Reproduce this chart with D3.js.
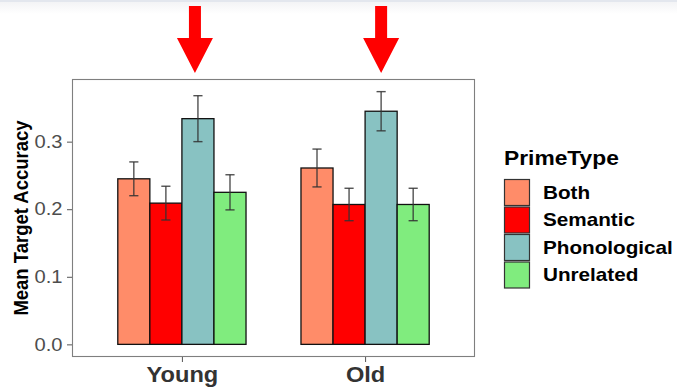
<!DOCTYPE html>
<html>
<head>
<meta charset="utf-8">
<script src="https://cdn.jsdelivr.net/npm/d3@7"></script>
<style>
  html, body { margin: 0; padding: 0; background: #fff; }
  svg { display: block; font-family: "Liberation Sans", Arial, sans-serif; }
</style>
</head>
<body>
<svg id="chart" width="677" height="390"></svg>
<script>
// Age groups on the x axis and prime types within each group
const groups = ["Young", "Old"];
const primeTypes = ["Both", "Semantic", "Phonological", "Unrelated"];
const primeColors = ["#FF8C69", "#FF0000", "#88C2C2", "#80EC7E"];

// Mean target accuracy per prime type (same order as primeTypes)
const youngMeans = [0.245, 0.209, 0.334, 0.225];
const oldMeans   = [0.261, 0.207, 0.345, 0.207];
// Standard errors
const youngSE = [0.025, 0.025, 0.034, 0.026];
const oldSE   = [0.028, 0.024, 0.029, 0.024];

const yTicks = [0.0, 0.1, 0.2, 0.3];
const yLabel = "Mean Target Accuracy";
const legendTitle = "PrimeType";
// Highlighted prime type (arrows above it in each group)
const highlighted = "Phonological";

const rows = [];
groups.forEach((g, gi) => {
  const means = gi === 0 ? youngMeans : oldMeans;
  const ses = gi === 0 ? youngSE : oldSE;
  primeTypes.forEach((p, pi) => rows.push({ group: g, gi, type: p, pi, mean: means[pi], se: ses[pi] }));
});

const svg = d3.select("#chart");
const panel = { left: 72, right: 475, top: 79, bottom: 357 };
// Text is drawn slightly wide
const stretch = 1.12;

// Faint band across the top edge
const defs = svg.append("defs");
const grad = defs.append("linearGradient").attr("id", "topfade").attr("x1", 0).attr("y1", 0).attr("x2", 0).attr("y2", 1);
grad.append("stop").attr("offset", "0%").attr("stop-color", "#f1f2f4");
grad.append("stop").attr("offset", "100%").attr("stop-color", "#ffffff");
svg.append("rect").attr("x", 0).attr("y", 0).attr("width", 677).attr("height", 14).attr("fill", "url(#topfade)");
svg.append("rect").attr("x", 0).attr("y", 0).attr("width", 677).attr("height", 2).attr("fill", "#e3e7ee");

// Scales: continuous x with discrete expansion of 0.6 units, y with 5% padding
const yMax = d3.max(rows, d => d.mean + d.se);
const pad = yMax * 0.05;
const y = d3.scaleLinear().domain([-pad, yMax + pad]).range([panel.bottom, panel.top]);
const x = d3.scaleLinear().domain([0.4, groups.length + 0.6]).range([panel.left, panel.right]);
const dodge = 0.7;
const barW = dodge / primeTypes.length;
const barX = d => d.gi + 1 - dodge / 2 + d.pi * barW;
const color = d3.scaleOrdinal().domain(primeTypes).range(primeColors);

// Panel border
svg.append("rect")
  .attr("x", panel.left + 0.5).attr("y", panel.top + 0.5)
  .attr("width", panel.right - panel.left - 1).attr("height", panel.bottom - panel.top - 1)
  .attr("fill", "none").attr("stroke", "#7f7f7f").attr("stroke-width", 1.1);

// Bars
svg.append("g").selectAll("rect").data(rows).join("rect")
  .attr("x", d => x(barX(d)))
  .attr("width", d => x(barX(d) + barW) - x(barX(d)))
  .attr("y", d => y(d.mean))
  .attr("height", d => y(0) - y(d.mean))
  .attr("fill", d => color(d.type))
  .attr("stroke", "#111").attr("stroke-width", 1.3);

// Error bars
const capHalf = 0.025;
const eb = svg.append("g").attr("stroke", "#333").attr("stroke-opacity", 0.85).attr("stroke-width", 1.4).attr("fill", "none");
rows.forEach(d => {
  const cx = barX(d) + barW / 2;
  eb.append("line").attr("x1", x(cx)).attr("x2", x(cx)).attr("y1", y(d.mean + d.se)).attr("y2", y(d.mean - d.se));
  eb.append("line").attr("x1", x(cx - capHalf)).attr("x2", x(cx + capHalf)).attr("y1", y(d.mean + d.se)).attr("y2", y(d.mean + d.se));
  eb.append("line").attr("x1", x(cx - capHalf)).attr("x2", x(cx + capHalf)).attr("y1", y(d.mean - d.se)).attr("y2", y(d.mean - d.se));
});

// Y axis
const yAxis = d3.axisLeft(y).tickValues(yTicks).tickFormat(d3.format(".1f")).tickSize(5).tickPadding(4);
const yg = svg.append("g").attr("transform", `translate(${panel.left},0)`).call(yAxis);
yg.select(".domain").remove();
yg.selectAll(".tick line").attr("stroke", "#555");
yg.selectAll(".tick text").attr("fill", "#4d4d4d").style("font-size", "18px")
  .attr("x", -9.5 / stretch).attr("transform", `scale(${stretch},1)`);

// X axis
const xAxis = d3.axisBottom(x).tickValues(groups.map((g, i) => i + 1)).tickFormat((d, i) => groups[i]).tickSize(5).tickPadding(4);
const xg = svg.append("g").attr("transform", `translate(0,${panel.bottom})`).call(xAxis);
xg.select(".domain").remove();
xg.selectAll(".tick line").attr("stroke", "#555");
xg.selectAll(".tick text").attr("fill", "#333").style("font-size", "22.5px").style("font-weight", "bold")
  .attr("transform", "scale(1.05,1)");

// Y axis title
svg.append("text")
  .attr("transform", `translate(28,${(panel.top + panel.bottom) / 2}) rotate(-90) scale(1,${stretch})`)
  .attr("text-anchor", "middle")
  .style("font-size", "18.5px").style("font-weight", "bold").attr("fill", "#000")
  .text(yLabel);

// Red arrows above the highlighted bars
const hi = primeTypes.indexOf(highlighted);
groups.forEach((g, gi) => {
  const cx = x(gi + 1 - dodge / 2 + hi * barW + barW / 2) - (gi === 0 ? 3 : 0);
  const top = 6, neck = 38, tip = 73, shaftHalf = 6, headHalf = 18;
  svg.append("path")
    .attr("d", `M${cx - shaftHalf},${top} L${cx + shaftHalf},${top} L${cx + shaftHalf},${neck} L${cx + headHalf},${neck} L${cx},${tip} L${cx - headHalf},${neck} L${cx - shaftHalf},${neck} Z`)
    .attr("fill", "#FF0000");
});

// Legend
const lg = svg.append("g").attr("transform", "translate(504,0)");
lg.append("text").attr("transform", `translate(0,165) scale(1.14,1)`)
  .style("font-size", "20px").style("font-weight", "bold").attr("fill", "#000").text(legendTitle);
primeTypes.forEach((p, i) => {
  const ky = 179.5 + i * 27.5;
  lg.append("rect").attr("x", 0.5).attr("y", ky).attr("width", 25).attr("height", 26)
    .attr("fill", color(p)).attr("stroke", "#333").attr("stroke-width", 1.2);
  lg.append("text").attr("transform", `translate(39,${ky + 13}) scale(1.15,1)`).attr("dy", "0.35em")
    .style("font-size", "18px").style("font-weight", "bold").attr("fill", "#000").text(p);
});
</script>
</body>
</html>
